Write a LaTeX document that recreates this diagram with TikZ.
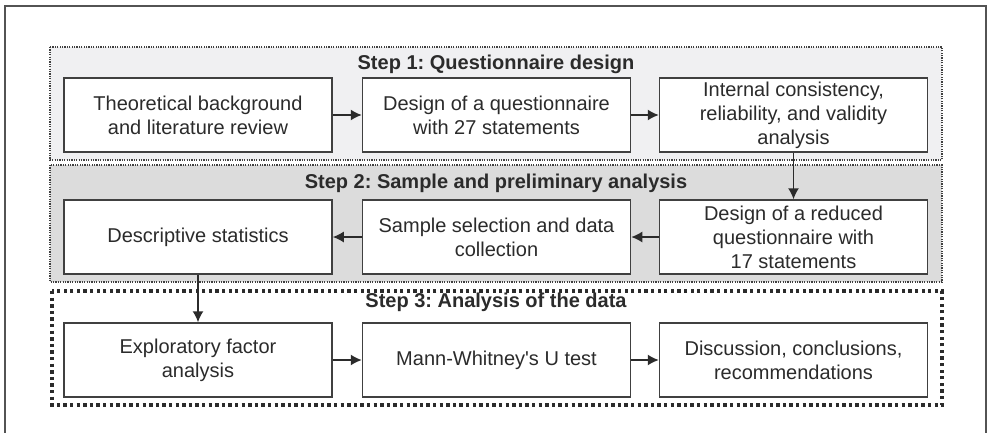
\documentclass[tikz,border=0pt]{standalone}
\usepackage{fontspec}
\setmainfont{Liberation Sans}
\usetikzlibrary{arrows.meta}
\frenchspacing
\definecolor{ink}{HTML}{2B2B2B}
\definecolor{edge}{HTML}{404040}
\definecolor{panelA}{HTML}{F0F0F2}
\definecolor{panelB}{HTML}{DCDCDC}
\tikzset{
  box/.style={draw=edge, line width=1.5pt, fill=white, text=ink,
    minimum width=268pt, minimum height=74pt, align=center, inner sep=2pt,
    font=\fontsize{20}{24}\selectfont},
  title/.style={text=ink, font=\fontsize{20}{24}\selectfont\bfseries},
  finedots/.style={draw=edge, line width=1.2pt, dash pattern=on 1.2pt off 1.2pt},
  heavydots/.style={draw=ink, line width=3.3pt, dash pattern=on 3.3pt off 3.3pt},
  flow/.style={draw=ink, line width=1.5pt, -{Latex[length=11pt,width=11pt]}}
}
\begin{document}
\begin{tikzpicture}[x=1pt, y=-1pt]
  \useasboundingbox (0,0) rectangle (988,432);
  \fill[white] (0,0) rectangle (988,432);
  % outer frame (open at the bottom)
  \draw[draw=edge!90, line width=1.5pt] (5,440) -- (5,6) -- (986,6) -- (986,440);

  % stage panels
  \path[finedots, fill=panelA] (50,47) rectangle (942,160);
  \path[finedots, fill=panelB] (50,165) rectangle (942,282);
  \path[heavydots] (52,291) rectangle (942,405);

  \node[title] (t1) at (496,64) {Step 1: Questionnaire design};
  \node[title] (t2) at (496,183) {Step 2: Sample and preliminary analysis};
  \node[title] (t3) at (496,302) {Step 3: Analysis of the data};

  % step 1
  \node[box] (a1) at (198,115) {Theoretical background\\and literature review};
  \node[box] (a2) at (496.5,115) {Design of a questionnaire\\with 27 statements};
  \node[box] (a3) at (793.5,115) {Internal consistency,\\reliability, and validity\\analysis};
  % step 2
  \node[box] (b1) at (198,237) {Descriptive statistics};
  \node[box] (b2) at (496.5,237) {Sample selection and data\\collection};
  \node[box] (b3) at (793.5,237) {Design of a reduced\\questionnaire with\\17 statements};
  % step 3
  \node[box] (c1) at (198,360) {Exploratory factor\\analysis};
  \node[box] (c2) at (496.5,360) {Mann-Whitney\textquotesingle s U test};
  \node[box] (c3) at (793.5,360) {Discussion, conclusions,\\recommendations};

  % connectors
  \draw[flow] (a1) -- (a2);
  \draw[flow] (a2) -- (a3);
  \draw[flow] (a3) -- (b3);
  \draw[flow] (b3) -- (b2);
  \draw[flow] (b2) -- (b1);
  \draw[flow] (b1) -- (c1);
  \draw[flow] (c1) -- (c2);
  \draw[flow] (c2) -- (c3);
\end{tikzpicture}
\end{document}
